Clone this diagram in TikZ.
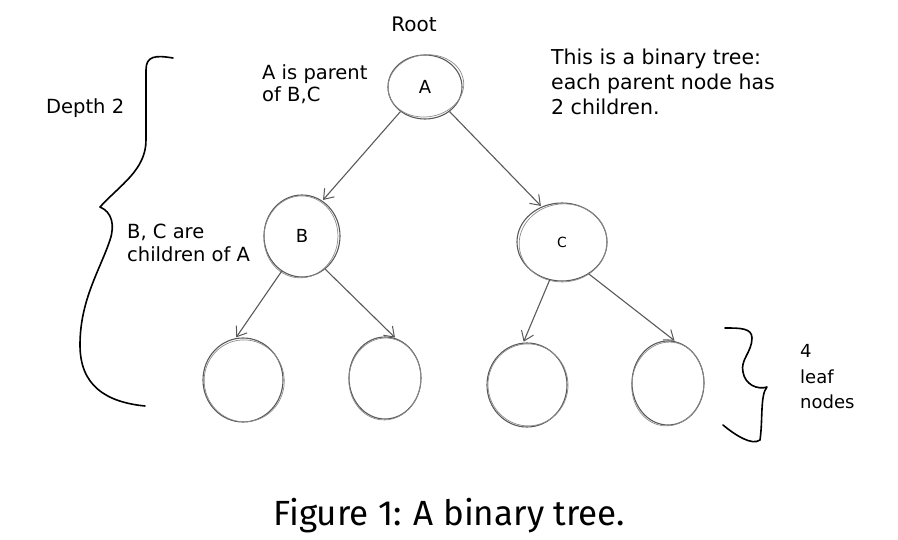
\documentclass[tikz,border=0pt]{standalone}
\usepackage{fontspec}
\setmainfont{Fira Sans}
\newfontfamily\hand{DejaVu Sans}
\usetikzlibrary{shapes.geometric,arrows.meta}

\begin{document}
\begin{tikzpicture}[x=1pt,y=-1pt,
  tnode/.style={ellipse,draw=black!65,line width=1.1pt,inner sep=0pt,
    font=\hand\fontsize{18}{20}\selectfont},
  retrace/.style={draw=black!45,line width=0.7pt},
  edge/.style={draw=black!65,line width=1.1pt,
    -{Straight Barb[length=9pt,width=13pt,line width=1pt]},shorten >=1pt},
  note/.style={align=left,anchor=west,inner sep=0pt,
    font=\hand\fontsize{19.5}{22.5}\selectfont},
  brace/.style={draw=black,line width=1.6pt,line cap=round,line join=round}]
\useasboundingbox (0,0) rectangle (898,540);

% tree nodes
\node[tnode,minimum width=74pt,minimum height=64pt] (A) at (425,87) {A};
\node[tnode,minimum width=76pt,minimum height=82pt] (B) at (302,236) {B};
\node[tnode,minimum width=90pt,minimum height=78pt] (C) at (562,242) {\fontsize{14}{16}\selectfont C};
\node[tnode,minimum width=80pt,minimum height=84pt] (L1) at (243,380) {};
\node[tnode,minimum width=72pt,minimum height=82pt] (L2) at (385,378) {};
\node[tnode,minimum width=80pt,minimum height=84pt] (L3) at (527,385) {};
\node[tnode,minimum width=72pt,minimum height=84pt] (L4) at (668,383) {};

% second pencil stroke around each node
\draw[retrace,rotate around={8:(A.center)}] ([shift={(1,-1)}]A.center) ellipse [x radius=38pt,y radius=31pt];
\draw[retrace,rotate around={-6:(B.center)}] ([shift={(-1,1)}]B.center) ellipse [x radius=37pt,y radius=41pt];
\draw[retrace,rotate around={6:(C.center)}] ([shift={(1,1)}]C.center) ellipse [x radius=44pt,y radius=39pt];
\draw[retrace,rotate around={10:(L1.center)}] ([shift={(1,1)}]L1.center) ellipse [x radius=40pt,y radius=41pt];
\draw[retrace,rotate around={-5:(L2.center)}] ([shift={(0,1)}]L2.center) ellipse [x radius=36pt,y radius=41pt];
\draw[retrace,rotate around={7:(L3.center)}] ([shift={(1,0)}]L3.center) ellipse [x radius=40pt,y radius=41pt];
\draw[retrace,rotate around={-8:(L4.center)}] ([shift={(0,1)}]L4.center) ellipse [x radius=36pt,y radius=42pt];

% parent to child connectors
\draw[edge] (A.225) -- (B.60);
\draw[edge] (A.-45) -- (C.120);
\draw[edge] (B.240) -- (L1.100);
\draw[edge] (B.-55) -- (L2.75);
\draw[edge] (C.252) -- (L3.95);
\draw[edge] (C.-50) -- (L4.80);

% labels
\node[font=\hand\fontsize{20}{22}\selectfont] (root) at (414,24) {Root};
\node[note] (parent) at (262,84) {A is parent\\of B,C};
\node[note] (depth) at (46,108) {Depth 2};
\node[note] (kids) at (127,243) {B, C are\\children of A};
\node[note,font=\hand\fontsize{20.5}{25}\selectfont] (binary) at (551,82) {This is a binary tree:\\each parent node has\\2 children.};
\node[note,font=\hand\fontsize{18}{25.5}\selectfont] (leaves) at (800,377) {4\\leaf\\nodes};

% curly braces
\draw[brace] (173,58) .. controls (155,55) and (146,56) .. (146,70)
  -- (146,140) .. controls (146,170) and (120,185) .. (100,207)
  .. controls (112,212) and (115,225) .. (110,240)
  .. controls (100,270) and (80,300) .. (80,345)
  .. controls (80,385) and (105,402) .. (145,406);
\draw[brace] (725,328) .. controls (740,328) and (752,328) .. (752,338)
  .. controls (752,352) and (740,360) .. (743,372)
  .. controls (745,385) and (758,390) .. (767,387)
  .. controls (760,395) and (763,420) .. (760,440)
  .. controls (752,446) and (735,435) .. (723,425);

% caption
\node[font=\fontsize{35}{40}\selectfont] (caption) at (449,516) {Figure 1: A binary tree.};
\end{tikzpicture}
\end{document}
